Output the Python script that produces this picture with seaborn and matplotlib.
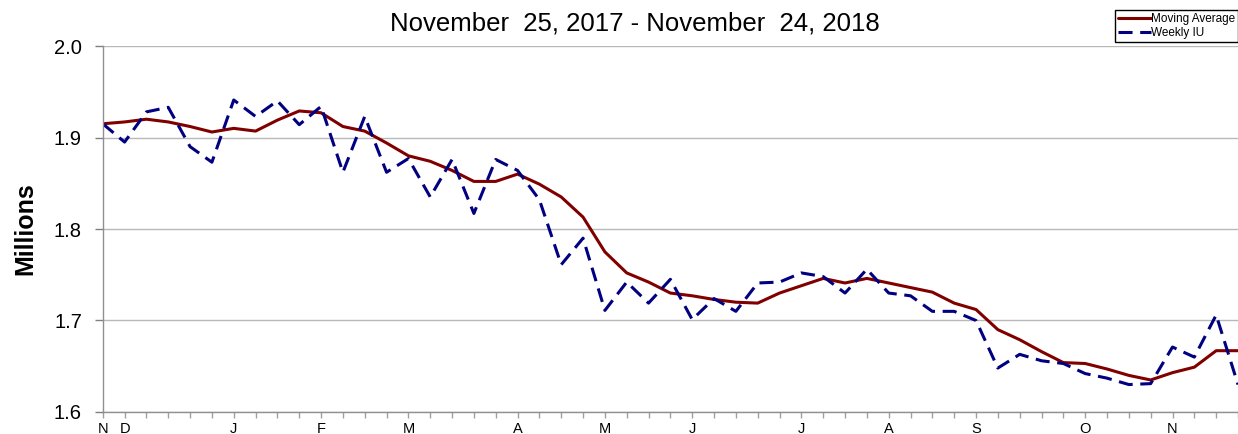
import numpy as np
import pandas as pd
import matplotlib
matplotlib.use("Agg")
import matplotlib.pyplot as plt
import seaborn as sns

# weekly data, week ending Saturday, Nov 25 2017 .. Nov 24 2018
weeks = pd.date_range("2017-11-25", "2018-11-24", freq="7D")

weekly_iu = [1.915, 1.895, 1.928, 1.933, 1.890, 1.873, 1.941, 1.923, 1.940, 1.914,
             1.934, 1.862, 1.923, 1.862, 1.877, 1.835, 1.876, 1.817, 1.876, 1.864,
             1.832, 1.761, 1.790, 1.711, 1.742, 1.719, 1.745, 1.701, 1.724, 1.710,
             1.741, 1.742, 1.752, 1.748, 1.730, 1.756, 1.730, 1.727, 1.710, 1.710,
             1.700, 1.648, 1.663, 1.656, 1.653, 1.642, 1.637, 1.630, 1.631, 1.671,
             1.660, 1.706, 1.630]

moving_avg = [1.915, 1.917, 1.920, 1.917, 1.912, 1.906, 1.910, 1.907, 1.919, 1.929,
              1.927, 1.912, 1.907, 1.894, 1.880, 1.874, 1.864, 1.852, 1.852, 1.860,
              1.849, 1.835, 1.813, 1.775, 1.752, 1.742, 1.730, 1.727, 1.723, 1.720,
              1.719, 1.730, 1.738, 1.746, 1.741, 1.746, 1.741, 1.736, 1.731, 1.719,
              1.712, 1.690, 1.679, 1.666, 1.654, 1.653, 1.647, 1.640, 1.635, 1.643,
              1.649, 1.667, 1.667]

y_ticks = [1.6, 1.7, 1.8, 1.9, 2.0]
title = "November  25, 2017 - November  24, 2018"

df = pd.DataFrame({"week": np.arange(len(weeks)), "date": weeks,
                   "ma": moving_avg, "iu": weekly_iu})

sns.set_style("white")
plt.rcParams["font.family"] = ["Liberation Sans", "DejaVu Sans"]
plt.rcParams["text.color"] = "black"
plt.rcParams["xtick.color"] = "black"
plt.rcParams["ytick.color"] = "black"
plt.rcParams["axes.labelcolor"] = "black"

fig = plt.figure(figsize=(12.38, 4.34), dpi=100)
ax = fig.add_axes([0.083, 0.0507, 0.917, 0.8433])

sns.lineplot(data=df, x="week", y="ma", ax=ax, color="#800000", lw=2.2,
             label="Moving Average", legend=False)
sns.lineplot(data=df, x="week", y="iu", ax=ax, color="#000080", lw=2.2,
             label="Weekly IU", legend=False)
ax.lines[1].set_linestyle((0, (4.6, 2.5)))

ax.set_ylim(1.6, 2.0)
ax.set_xlim(0, 51.82)
ax.set_yticks(y_ticks)
ax.set_yticklabels([f"{v:.1f}" for v in y_ticks], fontsize=14.5)

# month initial at the first week of each month
labels = []
prev = None
for d in weeks:
    labels.append(d.strftime("%b")[0] if d.month != prev else "")
    prev = d.month
ax.set_xticks(df["week"])
ax.set_xticklabels(labels, fontsize=10.5)

ax.tick_params(axis="y", length=6, width=1, color="#808080", labelcolor="black",
               pad=9, left=True)
ax.tick_params(axis="x", length=4, width=1, color="#a0a0a0", labelcolor="black",
               pad=3, bottom=True)

ax.yaxis.grid(True, color="#b8b8b8", lw=1)
ax.set_axisbelow(True)
for s in ["top", "right"]:
    ax.spines[s].set_visible(False)
for s in ["left", "bottom"]:
    ax.spines[s].set_color("#909090")
    ax.spines[s].set_linewidth(1)

ax.set_xlabel("")
ax.set_ylabel("Millions", fontsize=18, fontweight="bold", labelpad=12)

fig.text(0.5125, 0.946, title, ha="center", va="center", fontsize=18.5,
         color="black")

handles = ax.lines[:2]
fig.legend(handles, ["Moving Average", "Weekly IU"], loc="upper right",
           bbox_to_anchor=(1.0, 1 - 10 / 434), fontsize=8.5, frameon=True,
           fancybox=False, edgecolor="black", framealpha=1, borderpad=0.25,
           handlelength=2.8, handletextpad=0.0, labelspacing=0.15,
           borderaxespad=0)

fig.savefig("out.png", dpi=100)
